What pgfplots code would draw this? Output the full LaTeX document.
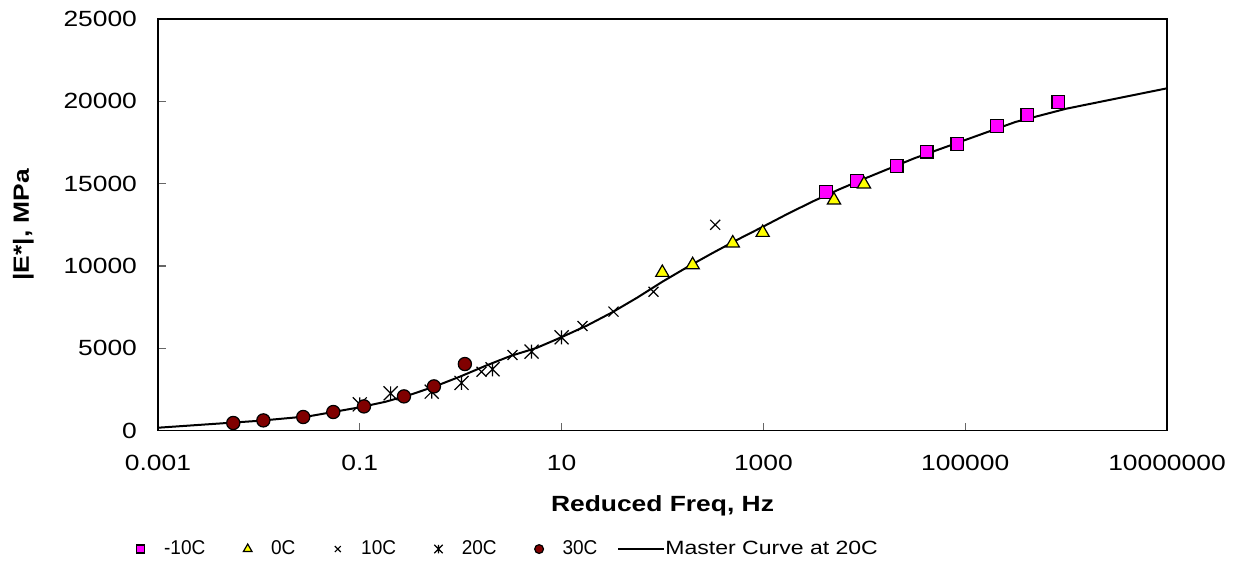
\documentclass[border=0pt]{standalone}
\usepackage{fontspec}
\setmainfont{Liberation Sans}[FakeStretch=1.2]
\newfontfamily\legnarrow{Liberation Sans}[FakeStretch=0.95]
\usepackage{pgfplots}
\pgfplotsset{compat=1.18}
\definecolor{sqmag}{RGB}{255,0,255}
\definecolor{triyel}{RGB}{255,255,0}
\definecolor{cirred}{RGB}{128,0,0}
\pgfdeclareplotmark{xstar}{%
  \pgfpathmoveto{\pgfqpoint{-\pgfplotmarksize}{-\pgfplotmarksize}}%
  \pgfpathlineto{\pgfqpoint{\pgfplotmarksize}{\pgfplotmarksize}}%
  \pgfpathmoveto{\pgfqpoint{-\pgfplotmarksize}{\pgfplotmarksize}}%
  \pgfpathlineto{\pgfqpoint{\pgfplotmarksize}{-\pgfplotmarksize}}%
  \pgfpathmoveto{\pgfqpoint{0pt}{-\pgfplotmarksize}}%
  \pgfpathlineto{\pgfqpoint{0pt}{\pgfplotmarksize}}%
  \pgfusepathqstroke}
\pgfplotsset{legmark/.style={legend image code/.code={\path (-11pt,0pt) (11.5pt,0pt); \draw[##1, mark size=#1] plot coordinates {(0pt,0pt)};}}}
\begin{document}
\begin{tikzpicture}
\begin{axis}[
  name=ax,
  scale only axis,
  width=504.5pt, height=205.85pt,
  xmode=log,
  xmin=0.001, xmax=1e7,
  ymin=0, ymax=25000,
  scaled y ticks=false,
  xtick={0.001,0.1,10,1000,100000,10000000},
  xticklabels={0.001,0.1,10,1000,100000,10000000},
  ytick={0,5000,10000,15000,20000,25000},
  yticklabels={0,5000,10000,15000,20000,25000},
  xminorticks=false, yminorticks=false,
  tick align=inside,
  xtick pos=bottom, ytick pos=left,
  major tick length=4pt,
  tick style={black!60, line width=0.6pt},
  axis line style={line width=0.8pt},
  ticklabel style={font=\fontsize{11}{13}\selectfont},
  xticklabel style={yshift=-8.5pt},
  yticklabel style={xshift=-7pt},
  xlabel={\bfseries Reduced Freq, Hz},
  ylabel={\bfseries |E*|, MPa},
  label style={font=\fontsize{11}{13}\selectfont},
  xlabel style={at={(axis description cs:0.5,-0.182)}, anchor=center},
  ylabel style={at={(axis description cs:-0.1335,0.5)}, anchor=center},
  legend style={at={(-0.0397,-0.2875)}, anchor=west, draw=none, fill=none,
    inner sep=0pt, nodes={inner sep=0pt},
    font=\fontsize{10}{12}\selectfont,
    /tikz/every even column/.append style={column sep=10pt}},
  legend columns=-1,
]
\addplot[only marks, mark=square*, mark size=3.2pt, mark options={fill=sqmag, draw=black, line width=0.6pt}, legmark=2pt]
  coordinates {(4169,14484) (8410,15170) (20940,16080) (41500,16950) (83600,17397) (208000,18507) (413000,19157) (838000,19964)};
\addlegendentry{\legnarrow -10C}
\addplot[only marks, mark=triangle*, mark size=3.8pt, mark options={fill=triyel, draw=black, line width=0.6pt}, legmark=2.5pt]
  coordinates {(99.6,9600) (199,10070) (497,11390) (984,12030) (5010,14000) (9930,14970)};
\addlegendentry{\legnarrow 0C}
\addplot[only marks, mark=x, mark size=3.5pt, mark options={draw=black, line width=0.6pt}, legmark=2.1pt]
  coordinates {(1.61,3580) (3.26,4600) (16.1,6360) (32.7,7230) (81.5,8440) (333,12500)};
\addlegendentry{\legnarrow 10C}
\addplot[only marks, mark=xstar, mark size=3.5pt, mark options={draw=black, line width=0.6pt}, legmark=2.1pt]
  coordinates {(0.1,1600) (0.202,2270) (0.516,2370) (1.02,2900) (2.07,3730) (5.04,4800) (10.0,5670)};
\addlegendentry{\legnarrow 20C}
\addplot[only marks, mark=*, mark size=3.3pt, mark options={fill=cirred, draw=black, line width=0.6pt}, legmark=2.2pt]
  coordinates {(0.00557,467) (0.01107,625) (0.0275,831) (0.0546,1134) (0.110,1475) (0.274,2083) (0.543,2690) (1.10,4047)};
\addlegendentry{\legnarrow 30C}
\addplot[black, line width=1pt, no marks,
  legend image code/.code={\path (0pt,0pt) (23pt,0pt); \draw[black, line width=1pt] (0pt,0pt) -- (23pt,0pt);}]
  coordinates {(0.001,180) (0.00316,390) (0.01,600) (0.0316,880) (0.1,1420) (0.178,1750) (0.316,2180) (0.562,2700) (1,3300) (1.78,3950) (3.16,4550) (5.62,5020) (10,5680) (17.8,6380) (31.6,7180) (56.2,8080) (100,9050) (178,9950) (316,10800) (562,11620) (1000,12400) (1780,13200) (3160,13950) (5620,14650) (10000,15300) (31600,16550) (100000,17650) (316000,18750) (1000000,19550) (3160000,20170) (10000000,20790)};
\addlegendentry{\fontsize{9.6}{12}\selectfont Master Curve at 20C}
\end{axis}
\pgfresetboundingbox
\path[use as bounding box] ([xshift=-79pt,yshift=-72.15pt]ax.south west) rectangle ([xshift=36pt,yshift=9.5pt]ax.north east);
\end{tikzpicture}
\end{document}
